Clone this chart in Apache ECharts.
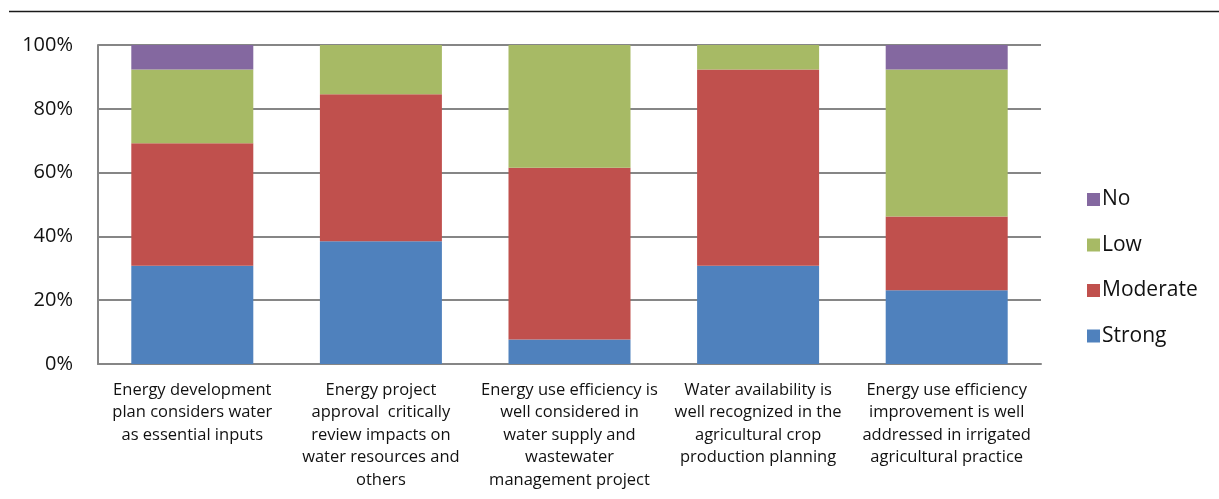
<!DOCTYPE html>
<html>
<head>
<meta charset="utf-8">
<script src="https://cdn.jsdelivr.net/npm/echarts@6/dist/echarts.min.js"></script>
<style>
  html, body { margin: 0; padding: 0; background: #fff; }
  #chart { width: 1219px; height: 499px; }
</style>
</head>
<body>
<div id="chart"></div>
<script>
// Survey statements (one stacked bar each)
const categories = [
  'Energy development\nplan considers water\nas essential inputs',
  'Energy project\napproval  critically\nreview impacts on\nwater resources and\nothers',
  'Energy use efficiency is\nwell considered in\nwater supply and\nwastewater\nmanagement project',
  'Water availability is\nwell recognized in the\nagricultural crop\nproduction planning',
  'Energy use efficiency\nimprovement is well\naddressed in irrigated\nagricultural practice'
];

// Share of responses per rating (%)
const strong   = [30.8, 38.5,  7.7, 30.8, 23.1];
const moderate = [38.4, 46.1, 53.8, 61.5, 23.1];
const low      = [23.1, 15.4, 38.5,  7.7, 46.1];
const no       = [ 7.7,  0.0,  0.0,  0.0,  7.7];

const yTicks = [0, 20, 40, 60, 80, 100];

const font = '"Open Sans", Lato, sans-serif';
const chart = echarts.init(document.getElementById('chart'), null, { renderer: 'canvas' });

function seg(name, data, color) {
  return {
    name: name,
    type: 'bar',
    stack: 'total',
    data: data,
    barWidth: 122,
    itemStyle: { color: color },
    emphasis: { disabled: true }
  };
}

chart.setOption({
  animation: false,
  textStyle: { fontFamily: font },
  grid: { left: 98, top: 45, right: 178, bottom: 135, containLabel: false },
  graphic: [{
    type: 'line',
    shape: { x1: 9, y1: 11.5, x2: 1219, y2: 11.5 },
    style: { stroke: '#1a1a1a', lineWidth: 1.5 }
  }],
  legend: {
    orient: 'vertical',
    left: 1082,
    top: 184,
    itemWidth: 13,
    itemHeight: 13,
    itemGap: 24.5,
    icon: 'rect',
    data: ['No', 'Low', 'Moderate', 'Strong'],
    textStyle: { fontSize: 21, color: '#111', fontFamily: font, padding: [0, 0, 0, -3] }
  },
  xAxis: {
    type: 'category',
    data: categories,
    axisLine: { show: true, lineStyle: { color: '#868686', width: 2 } },
    axisTick: { show: false },
    axisLabel: {
      interval: 0,
      fontSize: 16.5,
      lineHeight: 22.5,
      color: '#111',
      margin: 15,
      fontFamily: font
    }
  },
  yAxis: {
    type: 'value',
    min: yTicks[0],
    max: yTicks[yTicks.length - 1],
    interval: yTicks[1] - yTicks[0],
    axisLine: { show: true, lineStyle: { color: '#868686', width: 2 } },
    axisTick: { show: false },
    splitLine: { show: true, lineStyle: { color: '#868686', width: 2 } },
    axisLabel: {
      formatter: '{value}%',
      fontSize: 20,
      color: '#111',
      margin: 25,
      fontFamily: font
    }
  },
  series: [
    seg('Strong', strong, '#4F81BD'),
    seg('Moderate', moderate, '#C0504D'),
    seg('Low', low, '#A7BA65'),
    seg('No', no, '#8468A0')
  ]
});
</script>
</body>
</html>
